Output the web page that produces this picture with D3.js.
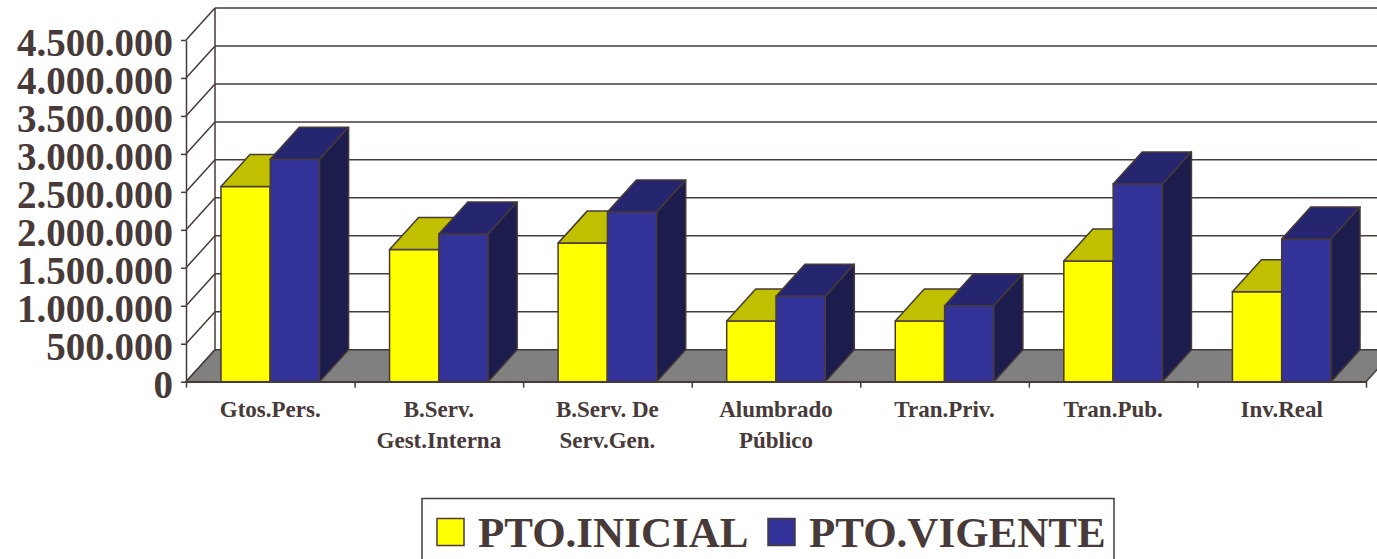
<!DOCTYPE html>
<html>
<head>
<meta charset="utf-8">
<script src="https://cdn.jsdelivr.net/npm/d3@7"></script>
<style>
  body { margin: 0; background: #ffffff; }
</style>
</head>
<body>
<div id="container"></div>
<script>
// data
let categories = ["Gtos.Pers.", "B.Serv.|Gest.Interna", "B.Serv. De|Serv.Gen.", "Alumbrado|Público", "Tran.Priv.", "Tran.Pub.", "Inv.Real"];
let ptoInicial = [2570000, 1740000, 1825000, 800000, 800000, 1590000, 1185000];
let ptoVigente = [2930000, 1945000, 2235000, 1125000, 1000000, 2605000, 1880000];
let seriesNames = ["PTO.INICIAL", "PTO.VIGENTE"];
let yTicks = [0, 500000, 1000000, 1500000, 2000000, 2500000, 3000000, 3500000, 4000000, 4500000];

let w = 1377;
let h = 559;
let plotLeft = 186;
let plotRight = 1366;
let plotBottom = 381.7;
let plotTop = 40;
let depthX = 29;
let depthY = -32;
let lineColor = "#483a38";
let fontFam = "'Liberation Serif', 'Times New Roman', serif";

let faceColors = ["#ffff00", "#333399"];
let topColors = ["#c0c000", "#262670"];
let sideColors = ["#a0a000", "#1c1c4d"];

let viz = d3.select("#container")
  .append("svg")
    .attr("width", w)
    .attr("height", h)
;

let xScale = d3.scaleBand().domain(d3.range(categories.length)).range([plotLeft, plotRight]).paddingInner(0.415).paddingOuter(0.2075);
let subScale = d3.scaleBand().domain([0, 1]).range([0, xScale.bandwidth()]);
let edgeScale = d3.scaleLinear().domain([0, categories.length]).range([plotLeft, plotRight]);
let yScale = d3.scaleLinear().domain([0, 4500000]).range([plotBottom, plotTop]);

let locale = d3.formatLocale({decimal: ",", thousands: ".", grouping: [3], currency: ["", ""]});
let fmt = locale.format(",d");

// back wall and left wall lines
let walls = viz.append("g").attr("class", "walls");
walls.selectAll(".grid").data(yTicks).enter()
  .append("line")
    .attr("x1", plotLeft + depthX)
    .attr("x2", w + 40)
    .attr("y1", function(d){ return yScale(d) + depthY; })
    .attr("y2", function(d){ return yScale(d) + depthY; })
    .attr("stroke", lineColor)
    .attr("stroke-width", 1.5)
;
walls.selectAll(".diag").data(yTicks).enter()
  .append("line")
    .attr("x1", plotLeft)
    .attr("x2", plotLeft + depthX)
    .attr("y1", function(d){ return yScale(d); })
    .attr("y2", function(d){ return yScale(d) + depthY; })
    .attr("stroke", lineColor)
    .attr("stroke-width", 1.5)
;
walls.append("line")
  .attr("x1", plotLeft + depthX).attr("x2", plotLeft + depthX)
  .attr("y1", yScale(4500000) + depthY).attr("y2", yScale(0) + depthY)
  .attr("stroke", lineColor).attr("stroke-width", 1.5);

// floor
let y0 = yScale(0);
viz.append("polygon")
  .attr("points", [[plotLeft, y0], [plotRight, y0], [plotRight + depthX, y0 + depthY], [plotLeft + depthX, y0 + depthY]].join(" "))
  .attr("fill", "#808080")
  .attr("stroke", lineColor)
  .attr("stroke-width", 1.5)
;

// bars
let barGroup = viz.append("g").attr("class", "bars");
let series = [ptoInicial, ptoVigente];

categories.forEach(function(c, i){
  series.forEach(function(vals, s){
    let bx = xScale(i) + subScale(s);
    let bw = subScale.bandwidth();
    let ty = yScale(vals[i]);
    let g = barGroup.append("g");
    g.append("rect")
      .attr("x", bx).attr("y", ty)
      .attr("width", bw).attr("height", y0 - ty)
      .attr("fill", faceColors[s])
      .attr("stroke", lineColor).attr("stroke-width", 1.5);
    g.append("polygon")
      .attr("points", [[bx, ty], [bx + depthX, ty + depthY], [bx + bw + depthX, ty + depthY], [bx + bw, ty]].join(" "))
      .attr("fill", topColors[s])
      .attr("stroke", lineColor).attr("stroke-width", 1.5).attr("stroke-linejoin", "round");
    g.append("polygon")
      .attr("points", [[bx + bw, ty], [bx + bw + depthX, ty + depthY], [bx + bw + depthX, y0 + depthY], [bx + bw, y0]].join(" "))
      .attr("fill", sideColors[s])
      .attr("stroke", lineColor).attr("stroke-width", 1.5).attr("stroke-linejoin", "round");
  });
});

// y axis
let yAxis = d3.axisLeft(yScale).tickValues(yTicks).tickFormat(fmt).tickSize(5).tickPadding(8).tickSizeOuter(0);
let yAxisGroup = viz.append("g").attr("class", "yaxis").attr("transform", "translate(" + plotLeft + ",0)").call(yAxis);
yAxisGroup.selectAll("path, line").attr("stroke", lineColor).attr("stroke-width", 1.5);
yAxisGroup.selectAll("text")
  .attr("fill", lineColor)
  .attr("font-family", fontFam)
  .attr("font-weight", "bold")
  .attr("font-size", 39)
  .attr("dy", "0.4em")
;

// x axis
let xAxis = d3.axisBottom(edgeScale).tickValues(d3.range(categories.length + 1)).tickFormat("").tickSize(6).tickSizeOuter(0);
let xAxisGroup = viz.append("g").attr("class", "xaxis").attr("transform", "translate(0," + y0 + ")").call(xAxis);
xAxisGroup.selectAll("path, line").attr("stroke", lineColor).attr("stroke-width", 1.5);

let catLabels = viz.append("g").attr("class", "catlabels");
categories.forEach(function(c, i){
  let t = catLabels.append("text")
    .attr("text-anchor", "middle")
    .attr("font-family", fontFam)
    .attr("font-weight", "bold")
    .attr("font-size", 23)
    .attr("fill", lineColor);
  c.split("|").forEach(function(line, k){
    t.append("tspan")
      .attr("x", xScale(i) + xScale.bandwidth() / 2)
      .attr("y", 417 + k * 31)
      .text(line);
  });
});

// legend
let legend = viz.append("g").attr("class", "legend");
legend.append("rect")
  .attr("x", 422).attr("y", 498.5)
  .attr("width", 692).attr("height", 90)
  .attr("fill", "none").attr("stroke", lineColor).attr("stroke-width", 1.5);
let legendX = [437, 768];
seriesNames.forEach(function(name, s){
  legend.append("rect")
    .attr("x", legendX[s]).attr("y", 518.5)
    .attr("width", 27).attr("height", 27)
    .attr("fill", faceColors[s])
    .attr("stroke", lineColor).attr("stroke-width", 1.5);
  legend.append("text")
    .attr("x", legendX[s] + 41)
    .attr("y", 546.5)
    .attr("font-family", fontFam)
    .attr("font-weight", "bold")
    .attr("font-size", 43)
    .attr("fill", lineColor)
    .text(name);
});
</script>
</body>
</html>
